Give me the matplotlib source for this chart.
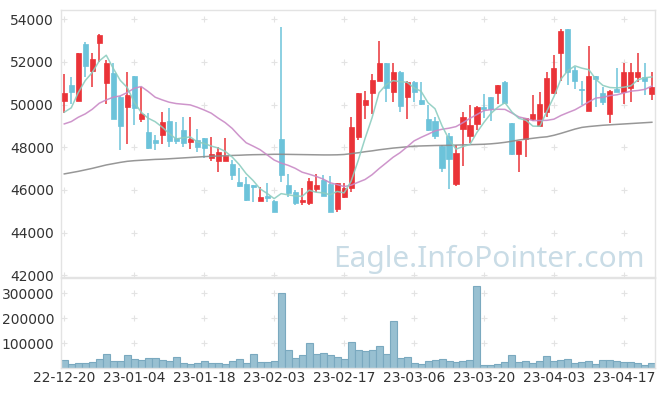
import numpy as np
import pandas as pd
import matplotlib
matplotlib.use("Agg")
import matplotlib.pyplot as plt

# daily OHLC + volume, 85 trading days (22-12-20 .. 23-04-21)
dates = ["22-12-20", "22-12-21", "22-12-22", "22-12-23", "22-12-26", "22-12-27", "22-12-28", "22-12-29",
         "23-01-02", "23-01-03", "23-01-04", "23-01-05", "23-01-06", "23-01-09", "23-01-10", "23-01-11",
         "23-01-12", "23-01-13", "23-01-16", "23-01-17", "23-01-18", "23-01-19", "23-01-20", "23-01-25",
         "23-01-26", "23-01-27", "23-01-30", "23-01-31", "23-02-01", "23-02-02", "23-02-03", "23-02-06",
         "23-02-07", "23-02-08", "23-02-09", "23-02-10", "23-02-13", "23-02-14", "23-02-15", "23-02-16",
         "23-02-17", "23-02-20", "23-02-21", "23-02-22", "23-02-23", "23-02-24", "23-02-27", "23-02-28",
         "23-03-02", "23-03-03", "23-03-06", "23-03-07", "23-03-08", "23-03-09", "23-03-10", "23-03-13",
         "23-03-14", "23-03-15", "23-03-16", "23-03-17", "23-03-20", "23-03-21", "23-03-22", "23-03-23",
         "23-03-24", "23-03-27", "23-03-28", "23-03-29", "23-03-30", "23-03-31", "23-04-03", "23-04-04",
         "23-04-05", "23-04-06", "23-04-07", "23-04-10", "23-04-11", "23-04-12", "23-04-13", "23-04-14",
         "23-04-17", "23-04-18", "23-04-19", "23-04-20", "23-04-21"]

opens = [50186, 50920, 50186, 52842, 51592, 52904, 51029, 51467, 50342, 49904,
         51342, 49342, 48701, 48342, 48592, 49233, 48420, 48811, 48264, 48342,
         48451, 47514, 47373, 47373, 47217, 46373, 46279, 46233, 45498, 45717,
         45483, 48389, 46233, 45889, 45451, 45373, 46045, 46467, 46279, 45092,
         45686, 46108, 48498, 49983, 50529, 51123, 51936, 50608, 51514, 50342,
         51045, 50217, 49326, 49233, 48076, 48529, 46264, 48842, 48545, 49076,
         49873, 50342, 50529, 51045, 49123, 47686, 48373, 49311, 48998, 49670,
         50529, 52404, 53529, 51623, 50733, 49717, 51342, 50529, 49545, 50717,
         50608, 50795, 51311, 51311, 50498]
highs = [51436, 51311, 52420, 52936, 52404, 53290, 52092, 51936, 50380, 51514,
         51360, 50842, 49623, 48576, 49639, 49826, 49170, 49404, 49436, 48842,
         48451, 48467, 48029, 48420, 47380, 47014, 46623, 46233, 46154, 46311,
         45520, 53623, 46733, 45998, 46076, 46545, 46733, 46701, 46654, 46311,
         46311, 49404, 50560, 50639, 51436, 52998, 51950, 51936, 51592, 51123,
         51123, 51045, 49983, 49436, 48100, 48654, 48108, 49654, 49983, 49936,
         50498, 50373, 50920, 51123, 49140, 48300, 49370, 50451, 50608, 51545,
         52326, 53529, 53560, 51779, 51123, 52748, 51342, 50811, 50660, 51701,
         51967, 51936, 52404, 51936, 51514]
lows = [49623, 50029, 50150, 51311, 50811, 52014, 50014, 49300, 47873, 48139,
        49045, 49201, 47900, 47873, 48154, 48029, 48139, 48029, 47920, 47795,
        47483, 47373, 46826, 47373, 46470, 46150, 45500, 45451, 45498, 45451,
        44950, 46358, 45686, 45295, 45295, 45295, 45889, 45700, 44951, 44951,
        45600, 45889, 48342, 49326, 49545, 51100, 50139, 50139, 49639, 49311,
        50139, 49980, 48780, 48389, 46858, 46029, 46201, 47123, 48186, 48811,
        49358, 49248, 50029, 50030, 47639, 46858, 47529, 49250, 48950, 49436,
        50500, 51123, 50920, 50733, 49983, 49700, 49873, 49983, 49123, 50580,
        50029, 50108, 51076, 50451, 50217]
closes = [50561, 50608, 52404, 51826, 52123, 53264, 51936, 49326, 49014, 50451,
          49826, 49561, 47951, 48186, 49186, 48311, 48311, 48217, 48389, 48029,
          47951, 47686, 47764, 47608, 46701, 46201, 45529, 46154, 45654, 45639,
          44983, 46701, 45873, 45404, 45529, 46420, 46233, 45733, 44951, 46311,
          46076, 48936, 50529, 50217, 51154, 51936, 50795, 51514, 49951, 51045,
          50608, 50014, 48811, 48545, 47045, 47436, 47717, 49436, 49029, 49873,
          49779, 49795, 50920, 50061, 47686, 48295, 49358, 49545, 50029, 51233,
          51701, 53451, 51545, 51123, 50701, 51342, 51201, 50108, 50639, 50608,
          51514, 51514, 51514, 51123, 50811]
volumes = [32000, 16000, 20000, 20000, 24000, 36000, 56000, 28000, 28000, 52000,
           36000, 32000, 40000, 40000, 32000, 28000, 44000, 20000, 16000, 20000,
           28000, 20000, 20000, 16000, 28000, 36000, 20000, 56000, 24000, 24000,
           28000, 300000, 72000, 40000, 52000, 100000, 56000, 60000, 52000, 44000,
           36000, 104000, 72000, 68000, 72000, 88000, 56000, 188000, 40000, 44000,
           20000, 16000, 28000, 32000, 36000, 28000, 24000, 28000, 32000, 328000,
           12000, 12000, 16000, 24000, 52000, 24000, 28000, 20000, 28000, 48000,
           28000, 32000, 36000, 20000, 24000, 28000, 16000, 32000, 32000, 28000,
           24000, 24000, 20000, 12000, 20000]

# closes before the visible window (needed for the short moving averages)
prior_closes = [48428, 48344, 48686, 47763, 47624, 48816, 46826, 47754, 47331, 45766,
                48001, 52631, 53506, 51686, 50491, 49571, 48837, 49009, 50229]

# long moving average (grey)
ma_long = [46750, 46810, 46870, 46940, 47010, 47090, 47170, 47230, 47290, 47340,
           47370, 47390, 47410, 47430, 47440, 47460, 47480, 47500, 47520, 47540,
           47560, 47575, 47590, 47600, 47615, 47625, 47640, 47650, 47655, 47660,
           47670, 47670, 47665, 47660, 47655, 47650, 47645, 47640, 47640, 47645,
           47660, 47700, 47740, 47790, 47830, 47880, 47920, 47960, 47990, 48020,
           48050, 48060, 48070, 48080, 48085, 48090, 48100, 48110, 48120, 48130,
           48140, 48160, 48190, 48230, 48280, 48340, 48380, 48420, 48460, 48490,
           48560, 48650, 48750, 48850, 48930, 48970, 49000, 49030, 49050, 49070,
           49090, 49110, 49130, 49150, 49170]

UP = "#ea3338"
DOWN = "#6cc3da"
GRID = "#e3e3e3"

df = pd.DataFrame({"open": opens, "high": highs, "low": lows, "close": closes, "volume": volumes})
x = np.arange(len(df))

all_close = pd.Series(prior_closes + closes)
ma5 = all_close.rolling(5).mean().values[len(prior_closes):]
ma20 = all_close.rolling(20).mean().values[len(prior_closes):]

fig = plt.figure(figsize=(6.65, 3.96), dpi=100)
ax = fig.add_axes([61 / 665, 1 - 277 / 396, 594 / 665, 267 / 396])
axv = fig.add_axes([61 / 665, 1 - 368 / 396, 594 / 665, 90 / 396], sharex=ax)

up = df["close"] >= df["open"]
colors = np.where(up, UP, DOWN)
body_lo = np.minimum(df["open"], df["close"])
body_h = np.maximum((df["close"] - df["open"]).abs(), 40)

ax.vlines(x, df["low"], df["high"], colors=colors, linewidth=1.1, zorder=2)
ax.bar(x, body_h, bottom=body_lo, width=0.72, color=colors, edgecolor=colors, linewidth=0.5, zorder=3)

ax.plot(x, ma_long, color="#8c8c8c", linewidth=1.1, alpha=0.9, zorder=4)
ax.plot(x, ma20, color="#c98ac6", linewidth=1.1, alpha=0.9, zorder=4)
ax.plot(x, ma5, color="#8dcdc0", linewidth=1.1, alpha=0.9, zorder=4)

axv.bar(x, df["volume"], width=1.0, color="#98c0d1", edgecolor="#7aa9bf", linewidth=0.8)

ax.set_xlim(-0.47, 84.45)
ax.set_ylim(41920, 54430)
axv.set_ylim(0, 362000)

xt = np.arange(0, len(df), 10)
price_ticks = np.arange(42000, 54001, 2000)
vol_ticks = [100000, 200000, 300000]

for a, yt in ((ax, price_ticks), (axv, vol_ticks)):
    a.set_yticks(yt)
    a.set_yticklabels([str(v) for v in yt])
    a.set_xticks(xt)
    a.tick_params(length=0, labelsize=10, colors="#333333", pad=5)
    for s in a.spines.values():
        s.set_color(GRID)
        s.set_linewidth(1.0)
    # "+" markers at grid intersections
    gx, gy = np.meshgrid(xt, yt)
    a.scatter(gx.ravel(), gy.ravel(), marker="+", s=18, color=GRID, linewidths=0.8, zorder=1)

ax.tick_params(labelbottom=False)
axv.tick_params(axis="x", pad=2)
axv.set_xticklabels([dates[i] for i in xt])

fig.text(489 / 665, 1 - 259 / 396, "Eagle.InfoPointer.com", fontsize=21.5, color="#c9dce6",
         ha="center", va="center", family="Noto Sans", zorder=0)

fig.savefig("out.png", dpi=100)
